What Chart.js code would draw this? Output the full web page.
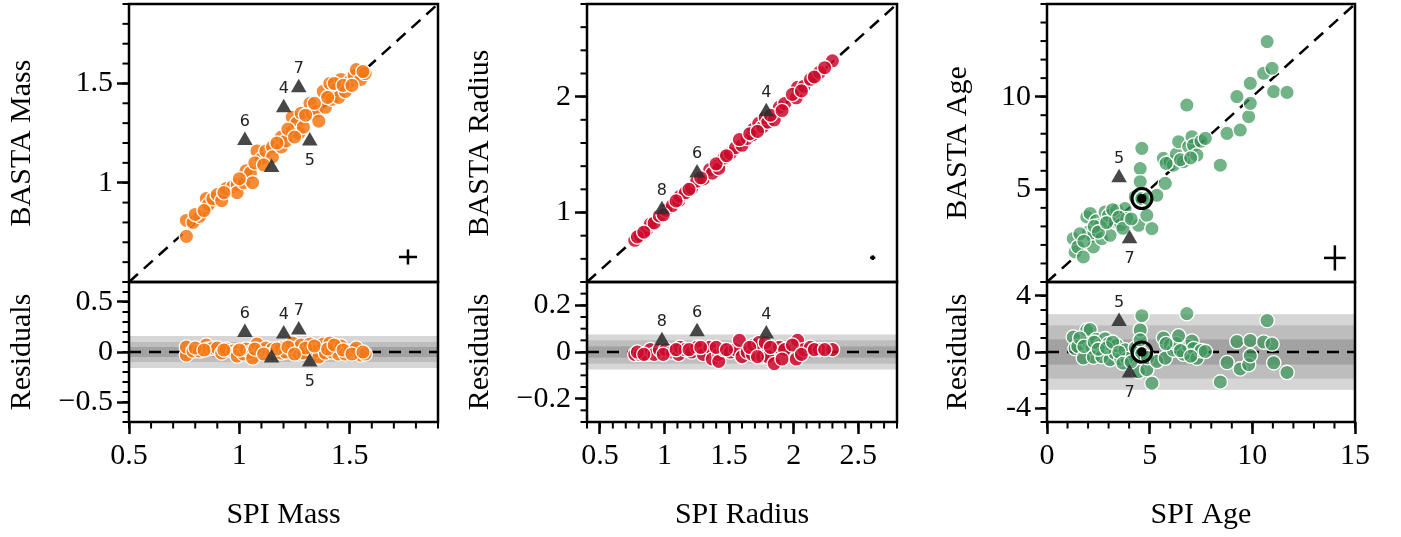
<!DOCTYPE html>
<html>
<head>
<meta charset="utf-8">
<script src="https://cdn.jsdelivr.net/npm/chart.js@4.4.1/dist/chart.umd.min.js"></script>
<style>
  body { margin: 0; background: #fff; overflow: hidden; }
  #wrap { position: relative; width: 1401px; height: 537px; }
  #wrap canvas { position: absolute; }
</style>
</head>
<body>
<div id="wrap"></div>
<script>
// ---- Mass ----
const massSpi   = [0.76, 0.76, 0.79, 0.82, 0.85, 0.86, 0.88, 0.90, 0.92, 0.94, 0.97, 0.99, 0.99, 1.02, 1.03, 1.05, 1.06, 1.08, 1.10, 1.12, 1.15, 1.15, 1.19, 1.19, 1.21, 1.24, 1.24, 1.26, 1.27, 1.28, 1.29, 1.32, 1.33, 1.35, 1.36, 1.38, 1.39, 1.41, 1.42, 1.44, 1.45, 1.46, 1.48, 1.50, 1.52, 1.53, 1.55, 1.57,
                   0.80, 0.84, 0.93, 1.00, 1.07, 1.11, 1.17, 1.22, 1.30, 1.34, 1.40, 1.43, 1.47, 1.51, 1.56, 1.25];
const massBasta = [0.73, 0.81, 0.80, 0.83, 0.92, 0.89, 0.92, 0.94, 0.91, 0.97, 0.98, 0.99, 0.95, 1.00, 1.06, 1.05, 1.00, 1.16, 1.12, 1.16, 1.18, 1.13, 1.18, 1.23, 1.21, 1.26, 1.33, 1.30, 1.25, 1.35, 1.28, 1.40, 1.35, 1.36, 1.31, 1.46, 1.38, 1.50, 1.42, 1.47, 1.43, 1.52, 1.46, 1.51, 1.54, 1.57, 1.52, 1.55,
                   0.84, 0.86, 0.95, 1.02, 1.10, 1.09, 1.20, 1.27, 1.34, 1.40, 1.43, 1.50, 1.49, 1.49, 1.56, 1.23];
const massResid = [-0.03, 0.05, 0.01, 0.01, 0.07, 0.03, 0.04, 0.04, -0.01, 0.03, 0.01, 0.00, -0.04, -0.02, 0.03, 0.00, -0.06, 0.08, 0.02, 0.04, 0.03, -0.02, -0.01, 0.04, 0.00, 0.02, 0.09, 0.04, -0.02, 0.07, -0.01, 0.08, 0.02, 0.01, -0.05, 0.08, -0.01, 0.09, 0.00, 0.03, -0.02, 0.06, -0.02, 0.01, 0.02, 0.04, -0.03, -0.02,
                   0.04, 0.02, 0.02, 0.02, 0.03, -0.02, 0.03, 0.05, 0.04, 0.06, 0.03, 0.07, 0.02, -0.02, 0.00, -0.02];
const massTriSpi   = [1.025, 1.201, 1.269, 1.319, 1.146];
const massTriBasta = [1.212, 1.377, 1.478, 1.210, 1.077];
const massTriResid = [0.195, 0.18, 0.22, -0.10, -0.06];
const massTriIds   = ['6', '4', '7', '5', ''];
const massErr      = [1.764, 0.626, 0.041, 0.038];   // x, y, dx, dy
const massRange    = [0.5, 1.9];
const massResRange = [-0.7, 0.7];
const massBands    = [0.16, 0.10, 0.05];
const massTicks    = [0.5, 1, 1.5];
const massTopTicks = [1, 1.5];
const massResTicks = [-0.5, 0, 0.5];

// ---- Radius ----
const radiusSpi   = [0.77, 0.81, 0.86, 0.89, 0.92, 0.96, 1.01, 1.06, 1.11, 1.12, 1.16, 1.21, 1.25, 1.30, 1.35, 1.37, 1.42, 1.42, 1.46, 1.51, 1.55, 1.60, 1.64, 1.68, 1.69, 1.73, 1.76, 1.78, 1.80, 1.85, 1.89, 1.93, 2.02, 2.03, 2.08, 2.13, 2.20, 2.30,
                     0.79, 0.84, 0.99, 1.09, 1.19, 1.28, 1.40, 1.48, 1.58, 1.66, 1.72, 1.82, 1.91, 1.99, 2.06, 2.16, 2.24];
const radiusBasta = [0.76, 0.80, 0.85, 0.90, 0.91, 0.97, 1.02, 1.06, 1.10, 1.14, 1.17, 1.21, 1.27, 1.29, 1.37, 1.34, 1.41, 1.38, 1.47, 1.51, 1.56, 1.58, 1.64, 1.67, 1.72, 1.77, 1.74, 1.82, 1.78, 1.80, 1.91, 1.94, 1.99, 2.08, 2.09, 2.15, 2.21, 2.31,
                     0.79, 0.83, 0.98, 1.10, 1.20, 1.30, 1.42, 1.49, 1.63, 1.68, 1.70, 1.84, 1.88, 2.02, 2.05, 2.17, 2.25];
const radiusResid = [-0.01, -0.01, -0.01, 0.01, -0.01, 0.01, 0.01, 0.00, -0.01, 0.02, 0.01, 0.00, 0.02, -0.01, 0.02, -0.03, -0.01, -0.04, 0.01, 0.00, 0.01, -0.02, 0.00, -0.01, 0.03, 0.04, -0.02, 0.04, -0.02, -0.05, 0.02, 0.01, -0.03, 0.05, 0.01, 0.02, 0.01, 0.01,
                     0.00, -0.01, -0.01, 0.01, 0.01, 0.02, 0.02, 0.01, 0.05, 0.02, -0.02, 0.02, -0.03, 0.03, -0.01, 0.01, 0.01];
const radiusTriSpi   = [0.98, 1.252, 1.788];
const radiusTriBasta = [1.023, 1.341, 1.87];
const radiusTriResid = [0.048, 0.087, 0.077];
const radiusTriIds   = ['8', '6', '4'];
const radiusErr      = [2.612, 0.61, 0.02, 0.02];
const radiusRange    = [0.4, 2.8];
const radiusResRange = [-0.3, 0.3];
const radiusBands    = [0.075, 0.05, 0.024];
const radiusTicks    = [0.5, 1, 1.5, 2, 2.5];
const radiusTopTicks = [1, 2];
const radiusResTicks = [-0.2, 0, 0.2];

// ---- Age ----
const ageSpi   = [1.28, 1.37, 1.50, 1.77, 1.94, 2.02, 2.10, 2.20, 2.26, 2.40, 2.59, 2.67, 2.83, 3.00, 3.07, 3.32, 3.40, 3.60, 3.80, 3.89, 4.30, 4.46, 4.54, 4.54, 4.62, 4.62, 4.86, 4.90, 5.11, 5.35, 5.67, 5.76, 6.00, 6.16, 6.30, 6.41, 6.65, 6.81, 6.90, 7.06, 7.14, 7.30, 7.50, 7.71, 8.44, 8.77, 9.25, 9.41, 9.82, 9.90, 9.90, 10.55, 10.72, 10.96, 11.04, 11.69,
                  1.60, 1.80, 2.30, 2.50, 2.90, 3.20, 3.50, 3.70, 5.80, 6.50, 7.00, 4.10];
const ageBasta = [2.34, 1.62, 1.90, 1.35, 3.51, 2.70, 3.70, 2.50, 1.89, 3.30, 3.06, 2.34, 3.78, 3.60, 2.52, 3.24, 3.87, 3.10, 3.96, 3.42, 4.60, 3.06, 6.12, 5.41, 7.21, 4.50, 3.60, 4.50, 2.88, 4.68, 6.67, 5.32, 6.50, 6.30, 6.90, 7.57, 6.49, 9.55, 7.30, 7.84, 7.39, 6.85, 7.60, 7.75, 6.30, 8.02, 10.00, 8.20, 8.92, 9.64, 10.72, 11.26, 12.97, 11.53, 10.27, 10.23,
                  2.60, 2.20, 3.00, 2.70, 3.20, 3.90, 3.50, 2.90, 6.40, 6.60, 6.70, 3.40];
const ageResid = [1.06, 0.25, 0.40, -0.42, 1.57, 0.68, 1.60, 0.30, -0.37, 0.90, 0.47, -0.33, 0.95, 0.60, -0.55, -0.08, 0.47, -0.50, 0.16, -0.47, 0.30, -1.40, 1.58, 0.87, 2.59, -0.12, -1.26, -0.40, -2.23, -0.67, 1.00, -0.44, 0.50, 0.14, 0.60, 1.16, -0.16, 2.74, 0.40, 0.78, 0.25, -0.45, 0.10, 0.04, -2.14, -0.75, 0.75, -1.21, -0.90, -0.26, 0.82, 0.71, 2.25, 0.57, -0.77, -1.46,
                  1.00, 0.40, 0.70, 0.20, 0.30, 0.70, 0.00, -0.80, 0.60, 0.10, -0.30, -0.70];
const ageTriSpi   = [3.51, 4.02];
const ageTriBasta = [5.62, 2.34];
const ageTriResid = [2.18, -1.5];
const ageTriIds   = ['5', '7'];
const ageHlSpi    = [4.62];
const ageHlBasta  = [4.50];
const ageHlResid  = [0.0];
const ageErr      = [14.02, 1.30, 0.53, 0.68];
const ageRange    = [0, 15];
const ageResRange = [-5, 5];
const ageBands    = [2.7, 1.9, 0.9];
const ageTicks    = [0, 5, 10, 15];
const ageTopTicks = [5, 10];
const ageResTicks = [-4, 0, 4];

const SERIF = '"Liberation Serif", "Times New Roman", serif';
const BIG = {family: SERIF, size: 30};
const AXW = 129;          // width reserved for the y axis
const CW = 470;           // canvas width per column
const bandColors = ['#d6d6d6', '#bdbdbd', '#a2a2a2'];

const pts = (xs, ys) => xs.map((x, i) => ({x: x, y: ys[i]}));
const minusFmt = v => String(v).replace('-', '\u2212');
const plainFmt = v => String(v);

const framePlugin = {
  id: 'frame',
  afterDraw(chart, args, o) {
    const {ctx, chartArea: a} = chart;
    ctx.save();
    ctx.strokeStyle = '#000';
    ctx.lineWidth = 2;
    [['x', o.minorX], ['y', o.minorY]].forEach(([id, step]) => {
      if (!step) return;
      const s = chart.scales[id];
      const n0 = Math.ceil(s.min / step - 1e-6), n1 = Math.floor(s.max / step + 1e-6);
      for (let n = n0; n <= n1; n++) {
        const p = s.getPixelForValue(n * step);
        ctx.beginPath();
        if (id === 'x') { ctx.moveTo(p, a.bottom); ctx.lineTo(p, a.bottom + 6.5); }
        else { ctx.moveTo(a.left - 6.5, p); ctx.lineTo(a.left, p); }
        ctx.stroke();
      }
    });
    ctx.lineWidth = 2.5;
    ctx.strokeRect(a.left, a.top, a.right - a.left, a.bottom - a.top);
    ctx.restore();
  }
};

const bandPlugin = {
  id: 'bands',
  beforeDatasetsDraw(chart, args, o) {
    if (!o.values) return;
    const {ctx, chartArea: a} = chart;
    const y = chart.scales.y;
    ctx.save();
    o.values.forEach((b, i) => {
      const t = y.getPixelForValue(b), btm = y.getPixelForValue(-b);
      ctx.fillStyle = bandColors[i];
      ctx.fillRect(a.left, t, a.right - a.left, btm - t);
    });
    ctx.restore();
  }
};

const idPlugin = {
  id: 'ids',
  afterDatasetsDraw(chart, args, o) {
    const {ctx} = chart;
    const meta = chart.getDatasetMeta(0);
    ctx.save();
    ctx.font = '16px "DejaVu Sans", sans-serif';
    ctx.fillStyle = '#222';
    ctx.textAlign = 'center';
    ctx.textBaseline = 'middle';
    meta.data.forEach((el, i) => {
      const id = o.ids[i];
      if (!id) return;
      const dy = o.below.includes(id) ? 20 : -19;
      ctx.fillText(id, el.x, el.y + dy);
    });
    ctx.restore();
  }
};

function addCanvas(left, top, w, h) {
  const c = document.createElement('canvas');
  c.width = w; c.height = h;
  c.style.left = left + 'px';
  c.style.top = top + 'px';
  document.getElementById('wrap').appendChild(c);
  return c;
}

function triSet(data) {
  return {data: data, pointStyle: 'triangle', pointRadius: 9, backgroundColor: 'rgba(45,45,45,0.88)', borderWidth: 0, order: 0};
}
function circleSet(data, color) {
  return {data: data, pointStyle: 'circle', pointRadius: 7.2, backgroundColor: color, borderColor: '#fff', borderWidth: 1.3, order: 2};
}
function hlSets(data) {
  return [
    {data: data, pointRadius: 10, backgroundColor: 'rgba(0,0,0,0)', borderColor: '#000', borderWidth: 3, order: 1},
    {data: data, pointRadius: 4.7, backgroundColor: '#000', borderWidth: 0, order: 1}
  ];
}
function lineSet(data, dash) {
  return {data: data, showLine: true, pointRadius: 0, borderColor: '#000', borderWidth: 2.5, borderDash: dash || [], order: 4};
}

function yScale(range, ticks, title, fmt, titlePad) {
  return {
    type: 'linear', position: 'left', min: range[0], max: range[1],
    afterFit: s => { s.width = AXW; s.paddingTop = 0; s.paddingBottom = 0; },
    afterBuildTicks: s => { s.ticks = ticks.map(v => ({value: v})); },
    border: {display: false},
    grid: {drawOnChartArea: false, drawTicks: true, tickLength: 12, tickWidth: 2.5, tickColor: '#000'},
    ticks: {color: '#000', font: BIG, padding: 4, callback: fmt},
    title: {display: true, text: title, color: '#000', font: BIG, padding: {top: titlePad, bottom: 0}}
  };
}

function column(c) {
  const left = c.plotLeft - AXW;
  const padRight = CW - AXW - (c.plotRight - c.plotLeft);
  const e = c.err;
  const common = {responsive: false, animation: false, events: []};

  // upper panel: BASTA vs SPI
  const topSets = [triSet(pts(c.triSpi, c.triBasta))];
  if (c.hl) topSets.push(...hlSets(pts(c.hl[0], c.hl[1])));
  topSets.push(
    circleSet(pts(c.spi, c.basta), c.color),
    lineSet([{x: e[0] - e[2], y: e[1]}, {x: e[0] + e[2], y: e[1]}]),
    lineSet([{x: e[0], y: e[1] - e[3]}, {x: e[0], y: e[1] + e[3]}]),
    lineSet([{x: c.range[0], y: c.range[0]}, {x: c.range[1], y: c.range[1]}], [12, 8])
  );
  new Chart(addCanvas(left, 0, CW, 290), {
    type: 'scatter',
    data: {datasets: topSets},
    options: Object.assign({}, common, {
      layout: {autoPadding: false, padding: {top: 4, bottom: 8, left: 0, right: padRight}},
      scales: {
        x: {type: 'linear', display: false, min: c.range[0], max: c.range[1]},
        y: yScale(c.range, c.topTicks, 'BASTA ' + c.name, c.fmt, c.titlePad)
      },
      plugins: {
        legend: {display: false}, tooltip: {enabled: false},
        frame: {minorY: c.minorTop},
        ids: {ids: c.triIds, below: c.below}
      }
    }),
    plugins: [bandPlugin, framePlugin, idPlugin]
  });

  // lower panel: residuals
  const botSets = [triSet(pts(c.triSpi, c.triResid))];
  if (c.hl) botSets.push(...hlSets(pts(c.hl[0], c.hl[2])));
  botSets.push(
    circleSet(pts(c.spi, c.resid), c.color),
    lineSet([{x: c.range[0], y: 0}, {x: c.range[1], y: 0}], [12, 8])
  );
  new Chart(addCanvas(left, 270, CW, 267), {
    type: 'scatter',
    data: {datasets: botSets},
    options: Object.assign({}, common, {
      layout: {autoPadding: false, padding: {top: 12, bottom: 0, left: 0, right: padRight}},
      scales: {
        x: {
          type: 'linear', position: 'bottom', min: c.range[0], max: c.range[1],
          afterFit: s => { s.height = 115; s.paddingLeft = 0; s.paddingRight = 0; },
          afterBuildTicks: s => { s.ticks = c.ticks.map(v => ({value: v})); },
          border: {display: false},
          grid: {drawOnChartArea: false, drawTicks: true, tickLength: 12, tickWidth: 2.5, tickColor: '#000'},
          ticks: {color: '#000', font: BIG, padding: 4, maxRotation: 0, callback: c.fmt},
          title: {display: true, text: 'SPI ' + c.name, color: '#000', font: BIG, padding: {top: 0, bottom: 4}}
        },
        y: yScale(c.resRange, c.resTicks, 'Residuals', c.resFmt, c.titlePad)
      },
      plugins: {
        legend: {display: false}, tooltip: {enabled: false},
        bands: {values: c.bands},
        frame: {minorX: c.minorX, minorY: c.minorRes},
        ids: {ids: c.triIds, below: c.below}
      }
    }),
    plugins: [bandPlugin, framePlugin, idPlugin]
  });
}

column({
  name: 'Mass', plotLeft: 129, plotRight: 438, color: 'rgba(245,120,20,0.85)',
  spi: massSpi, basta: massBasta, resid: massResid,
  triSpi: massTriSpi, triBasta: massTriBasta, triResid: massTriResid, triIds: massTriIds, below: ['5'],
  err: massErr, range: massRange, resRange: massResRange, bands: massBands,
  ticks: massTicks, topTicks: massTopTicks, resTicks: massResTicks,
  minorX: 0.1, minorTop: 0.1, minorRes: 0.1, fmt: minusFmt, resFmt: minusFmt, titlePad: 4
});

column({
  name: 'Radius', plotLeft: 587, plotRight: 897, color: 'rgba(205,10,45,0.85)',
  spi: radiusSpi, basta: radiusBasta, resid: radiusResid,
  triSpi: radiusTriSpi, triBasta: radiusTriBasta, triResid: radiusTriResid, triIds: radiusTriIds, below: [],
  err: radiusErr, range: radiusRange, resRange: radiusResRange, bands: radiusBands,
  ticks: radiusTicks, topTicks: radiusTopTicks, resTicks: radiusResTicks,
  minorX: 0.1, minorTop: 0.2, minorRes: 0.05, fmt: minusFmt, resFmt: minusFmt, titlePad: 4
});

column({
  name: 'Age', plotLeft: 1047, plotRight: 1355, color: 'rgba(60,150,90,0.72)',
  spi: ageSpi, basta: ageBasta, resid: ageResid,
  triSpi: ageTriSpi, triBasta: ageTriBasta, triResid: ageTriResid, triIds: ageTriIds, below: ['7'],
  hl: [ageHlSpi, ageHlBasta, ageHlResid],
  err: ageErr, range: ageRange, resRange: ageResRange, bands: ageBands,
  ticks: ageTicks, topTicks: ageTopTicks, resTicks: ageResTicks,
  minorX: 1, minorTop: 1, minorRes: 1, fmt: plainFmt, resFmt: plainFmt, titlePad: 22
});
</script>
</body>
</html>
